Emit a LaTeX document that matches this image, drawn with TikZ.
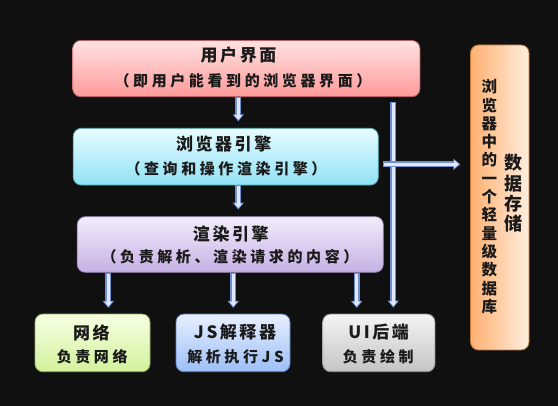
\documentclass[tikz,border=0pt]{standalone}
\usepackage{fontspec}
\usetikzlibrary{arrows.meta}
\newfontfamily\ttlfont[LetterSpace=15]{Noto Sans CJK SC}
\newfontfamily\subfont[LetterSpace=24]{Noto Sans CJK SC}
\newfontfamily\vfont{Noto Sans CJK SC}
\definecolor{bgc}{HTML}{101010}
\definecolor{txt}{HTML}{1A1A1A}
\definecolor{uiT}{HTML}{FFE2E2}\definecolor{uiB}{HTML}{FF9A9A}\definecolor{uiD}{HTML}{B86060}
\definecolor{beT}{HTML}{E8FCFF}\definecolor{beB}{HTML}{90E2F6}\definecolor{beD}{HTML}{5AAABB}
\definecolor{reT}{HTML}{F2EDFB}\definecolor{reB}{HTML}{C6B0E4}\definecolor{reD}{HTML}{9A88B8}
\definecolor{nwT}{HTML}{F6FFE2}\definecolor{nwB}{HTML}{D2F29C}\definecolor{nwD}{HTML}{9AB060}
\definecolor{jsT}{HTML}{E8F0FF}\definecolor{jsB}{HTML}{9CBEF8}\definecolor{jsD}{HTML}{5F80C0}
\definecolor{ubT}{HTML}{F4F4F4}\definecolor{ubB}{HTML}{C4C4C4}\definecolor{ubD}{HTML}{909090}
\definecolor{dsL}{HTML}{FFB070}\definecolor{dsR}{HTML}{FFEEDF}\definecolor{dsD}{HTML}{C07838}
\definecolor{arrO}{HTML}{6F8FCF}
\definecolor{arrI}{HTML}{DFE8FF}
\newcommand\fatarrow[4]{%
  \draw[arrout, shorten <=#3, shorten >=#4] #1 -- #2;
  \draw[arrin, shorten <=#3+1pt, shorten >=#4+1.6pt] #1 -- #2;}
\tikzset{
  box/.style n args={3}{draw=#3, line width=0.8pt, rounded corners=8pt, inner sep=0pt,
     top color=#1, bottom color=#2},
  ttl/.style={font=\ttlfont\bfseries\fontsize{17}{18}\selectfont, text=txt, inner sep=0pt},
  subt/.style={font=\subfont\bfseries\fontsize{15}{16}\selectfont, text=txt, inner sep=0pt},
  vttl/.style={font=\vfont\bfseries\fontsize{18}{20.2}\selectfont, text=txt, inner sep=0pt, align=center},
  vsub/.style={font=\vfont\bfseries\fontsize{15.5}{18.3}\selectfont, text=txt, inner sep=0pt, align=center},
  arrout/.style={draw=arrO, line width=6pt, -{Triangle[length=7pt,width=11pt]}},
  arrin/.style={draw=arrI, line width=3.4pt, -{Triangle[length=4.6pt,width=7.4pt]}},
}
\begin{document}
\begin{tikzpicture}[x=1pt,y=1pt]
\fill[bgc] (0,0) rectangle (558,406);
\useasboundingbox (0,0) rectangle (558,406);

% boxes
\node[box={uiT}{uiB}{uiD}, minimum width=347.3pt, minimum height=56.2pt] (ui) at (246.3,337.4) {};
\node[box={beT}{beB}{beD}, minimum width=305pt, minimum height=56.7pt] (be) at (225.8,249.3) {};
\node[box={reT}{reB}{reD}, minimum width=306pt, minimum height=55.6pt] (re) at (230.3,161.5) {};
\node[box={nwT}{nwB}{nwD}, minimum width=115pt, minimum height=57.7pt] (nw) at (92.5,63.1) {};
\node[box={jsT}{jsB}{jsD}, minimum width=114pt, minimum height=57.7pt] (js) at (233,63.1) {};
\node[box={ubT}{ubB}{ubD}, minimum width=112.3pt, minimum height=57.7pt] (ub) at (378.8,63.1) {};
\node[draw=dsD, line width=0.8pt, rounded corners=8pt, inner sep=0pt, left color=dsL, right color=dsR,
      minimum width=58.5pt, minimum height=305pt] (ds) at (499.8,208.5) {};

% texts
\node[ttl] (uit) at (238.5,351.2) {用户界面};
\node[subt] (uis) at (243,325.3) {（即用户能看到的浏览器界面）};
\node[ttl] (bet) at (223.7,262) {浏览器引擎};
\node[subt] (bes) at (226,237.3) {（查询和操作渲染引擎）};
\node[ttl] (ret) at (230.8,171.8) {渲染引擎};
\node[subt] (res) at (230,149) {（负责解析、渲染请求的内容）};
\node[ttl] (nwt) at (91.3,73.5) {网络};
\node[subt] (nws) at (92.2,49.3) {负责网络};
\node[ttl] (jst) at (235,73.5) {JS解释器};
\node[subt] (jss) at (235.5,49.3) {解析执行JS};
\node[ttl] (ubt) at (378.7,73.5) {UI后端};
\node[subt] (ubs) at (378.3,49.3) {负责绘制};
\node[vttl] (dst) at (513,212.7) {数\\据\\存\\储};
\node[vsub] (dss) at (489.3,209.3) {浏\\览\\器\\中\\的\\一\\个\\轻\\量\\级\\数\\据\\库};

% connectors
\fatarrow{([xshift=-8pt]ui.south)}{([xshift=12.5pt]be.north)}{0pt}{6.6pt}
\fatarrow{([xshift=12.5pt]be.south)}{([xshift=8pt]re.north)}{0pt}{6.7pt}
\fatarrow{([xshift=-122pt]re.south)}{([xshift=15.8pt]nw.north)}{0pt}{5.7pt}
\fatarrow{([xshift=3pt]re.south)}{([xshift=0.3pt]js.north)}{0pt}{5.7pt}
\fatarrow{([xshift=126.4pt]re.south)}{([xshift=-22.1pt]ub.north)}{0pt}{5.7pt}
\fatarrow{([xshift=147pt]ui.south)}{([xshift=14.5pt]ub.north)}{5pt}{6pt}
\coordinate (h0) at ([yshift=-7.6pt]be.east);
\fatarrow{(h0)}{(h0 -| ds.west)}{4.4pt}{9.8pt}
\end{tikzpicture}
\end{document}
